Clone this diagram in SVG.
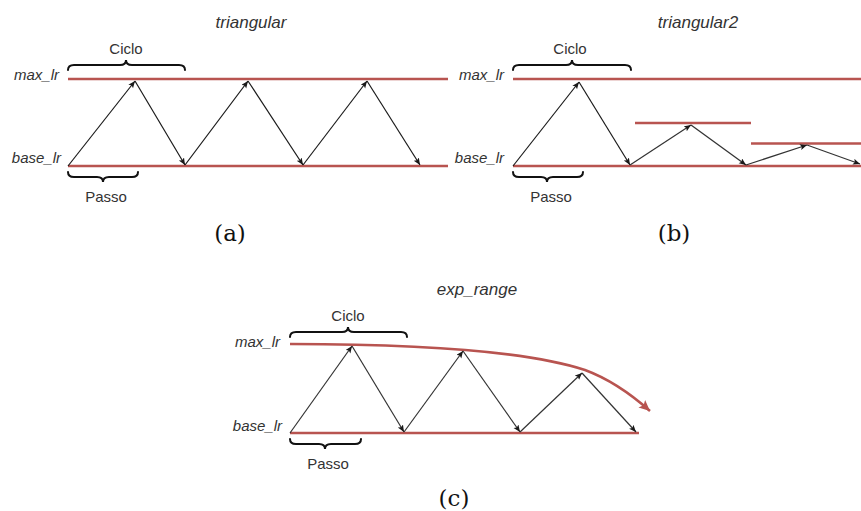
<svg xmlns="http://www.w3.org/2000/svg" width="861" height="511" viewBox="0 0 861 511">
<style>
.lvl{stroke:#b85450;stroke-width:2.5;fill:none}
.arr{stroke:#1a1a1a;stroke-width:1.2;fill:none;marker-end:url(#ah)}
.arr2{stroke:#333;stroke-width:1.2;fill:none;marker-end:url(#ah)}
.brace{stroke:#111;stroke-width:2;fill:none;stroke-linecap:round}
.t{font-family:"Liberation Sans",Arial,sans-serif;font-size:15px;fill:#333}
.i{font-style:italic}
.ttl{font-size:17px}
.cap{font-family:"DejaVu Serif","Liberation Serif",serif;font-size:23px;fill:#111;text-anchor:middle}
</style>
<defs>
<marker id="ah" markerUnits="userSpaceOnUse" markerWidth="10" markerHeight="8" refX="7" refY="3" orient="auto">
<path d="M0,0 L7,3 L0,6 L1.5,3 Z" fill="#1a1a1a"/>
</marker>
<marker id="rh" markerUnits="userSpaceOnUse" markerWidth="14" markerHeight="12" refX="11" refY="5" orient="auto">
<path d="M0,0 L11,5 L0,10 L2.5,5 Z" fill="#b85450"/>
</marker>
</defs>

<g id="panel-a">
<text class="t i ttl" x="251" y="28" text-anchor="middle">triangular</text>
<text class="t" x="126" y="54" text-anchor="middle">Ciclo</text>
<text class="t i" x="59" y="80" text-anchor="end">max_lr</text>
<text class="t i" x="61" y="163" text-anchor="end">base_lr</text>
<text class="t" x="106" y="202" text-anchor="middle">Passo</text>
<path class="brace" d="M68,70 Q68,65 74,65 L120,65 Q126,65 126,60 Q126,65 132,65 L179,65 Q185,65 185,70"/>
<path class="brace" d="M68,172 Q68,177 74,177 L97,177 Q103,177 103,182 Q103,177 109,177 L132,177 Q138,177 138,172"/>
<line class="lvl" x1="68" y1="79" x2="448" y2="79"/>
<line class="lvl" x1="68" y1="166" x2="448" y2="166"/>
<text class="cap" x="230" y="241">(a)</text>
</g>

<g id="panel-b">
<text class="t i ttl" x="698" y="28" text-anchor="middle">triangular2</text>
<text class="t" x="570" y="54" text-anchor="middle">Ciclo</text>
<text class="t i" x="504" y="80" text-anchor="end">max_lr</text>
<text class="t i" x="504" y="163" text-anchor="end">base_lr</text>
<text class="t" x="551" y="202" text-anchor="middle">Passo</text>
<path class="brace" d="M513,70 Q513,65 519,65 L566,65 Q572,65 572,60 Q572,65 578,65 L625,65 Q631,65 631,70"/>
<path class="brace" d="M513,172 Q513,177 519,177 L541,177 Q547,177 547,182 Q547,177 553,177 L577,177 Q583,177 583,172"/>
<line class="lvl" x1="513" y1="79" x2="861" y2="79"/>
<line class="lvl" x1="513" y1="166" x2="861" y2="166"/>
<line class="lvl" x1="635" y1="123" x2="751" y2="123"/>
<line class="lvl" x1="751" y1="143.5" x2="861" y2="143.5"/>
<text class="cap" x="674" y="241">(b)</text>
</g>

<g id="panel-c">
<text class="t i ttl" x="477" y="295" text-anchor="middle">exp_range</text>
<text class="t" x="348" y="321" text-anchor="middle">Ciclo</text>
<text class="t i" x="280" y="347" text-anchor="end">max_lr</text>
<text class="t i" x="282" y="431" text-anchor="end">base_lr</text>
<text class="t" x="328" y="469" text-anchor="middle">Passo</text>
<path class="brace" d="M290,337 Q290,332 296,332 L342,332 Q348,332 348,327 Q348,332 354,332 L401,332 Q407,332 407,337"/>
<path class="brace" d="M290,439 Q290,444 296,444 L319,444 Q325,444 325,449 Q325,444 331,444 L355,444 Q361,444 361,439"/>
<path class="lvl" d="M290,344 C430,344 530,352 585,370 C612,380 632,395 650,411" marker-end="url(#rh)"/>
<line class="lvl" x1="290" y1="433" x2="639" y2="433"/>
<text class="cap" x="454" y="506">(c)</text>
</g>

<g id="connectors">
<line class="arr" x1="68" y1="166" x2="135" y2="81"/>
<line class="arr" x1="135" y1="81" x2="185" y2="165"/>
<line class="arr" x1="185" y1="165" x2="248" y2="81"/>
<line class="arr" x1="248" y1="81" x2="303" y2="165"/>
<line class="arr" x1="303" y1="165" x2="367" y2="81"/>
<line class="arr" x1="367" y1="81" x2="420" y2="165"/>

<line class="arr" x1="513" y1="166" x2="579" y2="82"/>
<line class="arr" x1="579" y1="82" x2="630" y2="165"/>
<line class="arr2" x1="630" y1="165" x2="691" y2="125"/>
<line class="arr2" x1="691" y1="125" x2="746" y2="165"/>
<line class="arr2" x1="746" y1="165" x2="807" y2="145"/>
<line class="arr2" x1="807" y1="145" x2="860" y2="164"/>

<line class="arr2" x1="290" y1="433" x2="352" y2="346"/>
<line class="arr2" x1="352" y1="346" x2="404" y2="432"/>
<line class="arr2" x1="404" y1="432" x2="463" y2="351"/>
<line class="arr2" x1="463" y1="351" x2="520" y2="432"/>
<line class="arr2" x1="520" y1="432" x2="582" y2="373"/>
<line class="arr2" x1="582" y1="373" x2="636" y2="432"/>
</g>
</svg>
